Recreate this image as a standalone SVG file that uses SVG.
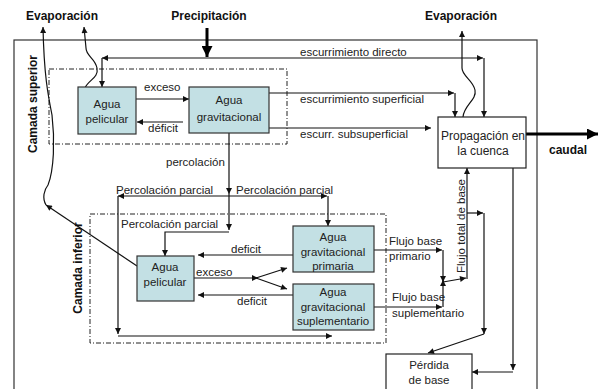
<svg xmlns="http://www.w3.org/2000/svg" width="604" height="389" viewBox="0 0 604 389">
<defs>
<marker id="a" viewBox="0 0 10 10" refX="10" refY="5" markerWidth="7" markerHeight="6" orient="auto" markerUnits="userSpaceOnUse"><path d="M0,0 L10,5 L0,10 z" fill="#111"/></marker>
<marker id="b" viewBox="0 0 10 10" refX="10" refY="5" markerWidth="13" markerHeight="11" orient="auto" markerUnits="userSpaceOnUse"><path d="M0,0 L10,5 L0,10 z" fill="#000"/></marker>
</defs>
<style>
text{font-family:"Liberation Sans",Arial,sans-serif;font-size:11.5px;fill:#222}
.t{font-weight:bold;font-size:12px;fill:#111}
.m{text-anchor:middle}
.box{fill:#c3e0e4;stroke:#333;stroke-width:1.2}
.wb{fill:#fff;stroke:#222;stroke-width:1.2}
.dash{fill:none;stroke:#222;stroke-width:1;stroke-dasharray:5 2 1 2}
#connectors line,#connectors path{fill:none;stroke:#111;stroke-width:1.2}
#connectors .a{marker-end:url(#a)}
#connectors .thick{stroke:#000;stroke-width:3;marker-end:url(#b)}
</style>
<rect width="604" height="389" fill="#fff"/>
<rect x="14" y="40" width="523" height="360" fill="none" stroke="#333" stroke-width="1.2"/>
<rect class="dash" x="49" y="69" width="238" height="75"/>
<rect class="dash" x="90" y="214" width="296" height="129"/>

<text class="t m" x="62" y="20">Evaporación</text>
<text class="t m" x="209" y="20">Precipitación</text>
<text class="t m" x="461" y="20">Evaporación</text>
<text class="t m" transform="translate(37,104) rotate(-90)">Camada superior</text>
<text class="t m" transform="translate(82,268) rotate(-90)">Camada inferior</text>
<text class="t" x="549" y="154">caudal</text>

<g id="connectors">
<line class="thick" x1="207" y1="28" x2="207" y2="57"/>
<line class="a" x1="207" y1="58" x2="102" y2="58"/>
<line class="a" x1="102" y1="58" x2="102" y2="87"/>
<line class="a" x1="207" y1="58" x2="483" y2="58"/>
<line class="a" x1="484" y1="58" x2="484" y2="117"/>
<line class="a" x1="136" y1="99" x2="189" y2="99"/>
<line class="a" x1="183" y1="122" x2="137" y2="122"/>
<line class="a" x1="269" y1="93" x2="454" y2="93"/>
<line class="a" x1="455" y1="93" x2="455" y2="117"/>
<line class="a" x1="269" y1="128" x2="431" y2="128"/>
<line class="thick" x1="526" y1="134" x2="598" y2="134"/>
<line class="a" x1="229" y1="133" x2="229" y2="194"/>
<line class="a" x1="229" y1="194" x2="229" y2="230"/>
<path class="a" d="M229,232 H165 V256"/>
<line class="a" x1="229" y1="196" x2="118" y2="196"/>
<line class="a" x1="229" y1="196" x2="327" y2="196"/>
<line class="a" x1="328" y1="196" x2="328" y2="226"/>
<line class="a" x1="118" y1="196" x2="118" y2="334"/>
<line class="a" x1="118" y1="336" x2="332" y2="336"/>
<line class="a" x1="293" y1="255" x2="198" y2="255"/>
<line class="a" x1="194" y1="278" x2="258" y2="278"/>
<line class="a" x1="256" y1="278" x2="287" y2="268"/>
<line class="a" x1="256" y1="278" x2="287" y2="289"/>
<line class="a" x1="293" y1="295" x2="198" y2="295"/>
<line class="a" x1="374" y1="250" x2="442" y2="250"/>
<line class="a" x1="443" y1="250" x2="443" y2="282"/>
<line class="a" x1="374" y1="307" x2="442" y2="307"/>
<line class="a" x1="443" y1="307" x2="443" y2="280"/>
<line class="a" x1="443" y1="282" x2="466" y2="278"/>
<line class="a" x1="467" y1="279" x2="467" y2="168"/>
<line class="a" x1="467" y1="213" x2="483" y2="213"/>
<line class="a" x1="484" y1="213" x2="484" y2="334"/>
<line class="a" x1="484" y1="334" x2="428" y2="353"/>
<line class="a" x1="513" y1="168" x2="513" y2="370"/>
<line class="a" x1="513" y1="372" x2="472" y2="372"/>
<path class="a" d="M85,88 C88,80 99,78 97,68 C95,58 86,56 86,48 L84,27"/>
<line class="a" x1="137" y1="266" x2="46" y2="205"/>
<path class="a" d="M46,205 C42,198 44,190 48,185 C54,170 55,140 52,115 C48,95 44,75 43,27"/>
<path class="a" d="M463,117 C464,105 477,100 475,90 C473,80 462,76 462,68 L462,31"/>
</g>

<text x="300" y="56">escurrimiento directo</text>
<text x="300" y="103">escurrimiento superficial</text>
<text x="300" y="138">escurr. subsuperficial</text>
<text x="144" y="91">exceso</text>
<text x="148" y="132">déficit</text>
<text x="166" y="166">percolación</text>
<text x="116" y="194">Percolación parcial</text>
<text x="236" y="194">Percolación parcial</text>
<text x="121" y="228">Percolación parcial</text>
<text x="231" y="253">deficit</text>
<text x="196" y="276">exceso</text>
<text x="237" y="305">deficit</text>
<text x="389" y="245">Flujo base</text>
<text x="389" y="260">primario</text>
<text x="392" y="301">Flujo base</text>
<text x="392" y="317">suplementario</text>
<text class="m" transform="translate(465,226) rotate(-90)">Flujo total de base</text>

<g id="pelicular-sup"><rect class="box" x="78" y="87" width="58" height="47"/><text class="m" x="107" y="108">Agua</text><text class="m" x="107" y="123">pelicular</text></g>
<g id="gravitacional-sup"><rect class="box" x="189" y="87" width="80" height="46"/><text class="m" x="229" y="104">Agua</text><text class="m" x="229" y="121">gravitacional</text></g>
<g id="propagacion"><rect class="wb" x="438" y="117" width="88" height="51"/><text class="m" x="483" y="140" style="font-size:12px">Propagación en</text><text class="m" x="483" y="155" style="font-size:12px">la cuenca</text></g>
<g id="pelicular-inf"><rect class="box" x="137" y="256" width="57" height="45"/><text class="m" x="165" y="271">Agua</text><text class="m" x="165" y="286">pelicular</text></g>
<g id="grav-primaria"><rect class="box" x="293" y="226" width="81" height="46"/><text class="m" x="333" y="241">Agua</text><text class="m" x="333" y="256">gravitacional</text><text class="m" x="333" y="270">primaria</text></g>
<g id="grav-suplementario"><rect class="box" x="293" y="284" width="81" height="46"/><text class="m" x="333" y="296">Agua</text><text class="m" x="333" y="311">gravitacional</text><text class="m" x="333" y="325">suplementario</text></g>
<g id="perdida"><rect class="wb" x="386" y="354" width="86" height="40"/><text class="m" x="429" y="369">Pérdida</text><text class="m" x="429" y="384">de base</text></g>
</svg>
